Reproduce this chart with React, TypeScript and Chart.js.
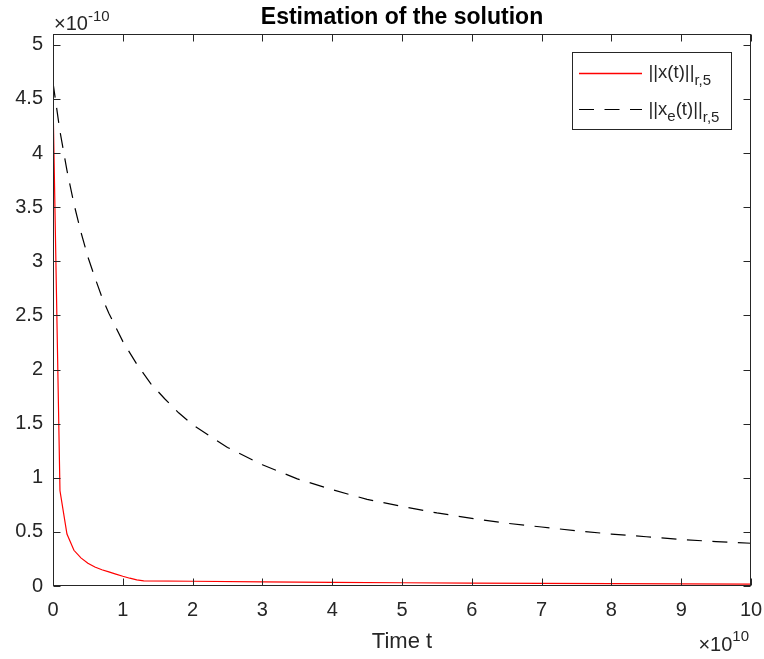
import React, { useEffect, useRef } from "react";
import { Chart, registerables } from "chart.js";

Chart.register(...registerables);

// ---- data (t in units of 1e10, values in units of 1e-10) ----
const xTicks = [0, 1, 2, 3, 4, 5, 6, 7, 8, 9, 10];
const yTicks = [0, 0.5, 1, 1.5, 2, 2.5, 3, 3.5, 4, 4.5, 5];

const tSolution = [0, 0.1, 0.2, 0.3, 0.4, 0.5, 0.6, 0.7, 0.8, 0.9, 1.0, 1.1, 1.2, 1.3, 2, 3, 4, 5, 6, 7, 8, 9, 10];
const xSolution = [4.5, 0.88, 0.48, 0.33, 0.26, 0.21, 0.175, 0.15, 0.13, 0.11, 0.09, 0.072, 0.056, 0.048, 0.044, 0.038, 0.034, 0.03, 0.027, 0.025, 0.022, 0.02, 0.018];

const tEstimate = [0, 0.1, 0.2, 0.3, 0.4, 0.5, 0.6, 0.7, 0.8, 1.0, 1.2, 1.4, 1.6, 1.8, 2.0, 2.5, 3, 3.5, 4, 4.5, 5, 5.5, 6, 6.5, 7, 7.5, 8, 8.5, 9, 9.5, 10];
const xEstimate = [4.65, 4.2, 3.84, 3.53, 3.27, 3.04, 2.85, 2.67, 2.52, 2.26, 2.05, 1.87, 1.73, 1.6, 1.49, 1.28, 1.12, 0.99, 0.89, 0.8, 0.735, 0.675, 0.625, 0.58, 0.545, 0.51, 0.48, 0.455, 0.43, 0.41, 0.395];

const titleText = "Estimation of the solution";
const xLabelText = "Time t";
const yExponent = "-10";
const xExponent = "10";

const FONT = "'Liberation Sans', Arial, Helvetica, sans-serif";
const AXIS_COLOR = "#262626";
const DASH = [15, 10.5];

type Run = { t: string; size: number; dy: number };

function drawRuns(ctx: CanvasRenderingContext2D, x: number, runs: Run[], baseline: number) {
  let cx = x;
  for (const r of runs) {
    ctx.font = `${r.size}px ${FONT}`;
    ctx.fillText(r.t, cx, baseline + r.dy);
    cx += ctx.measureText(r.t).width;
  }
  return cx;
}

function runsWidth(ctx: CanvasRenderingContext2D, runs: Run[]) {
  let w = 0;
  for (const r of runs) {
    ctx.font = `${r.size}px ${FONT}`;
    w += ctx.measureText(r.t).width;
  }
  return w;
}

const matlabDecor = {
  id: "matlabDecor",
  afterDatasetsDraw(chart: any) {
    const { ctx, chartArea: a, scales } = chart;
    const xs = scales.x;
    const ys = scales.y;
    ctx.save();
    ctx.strokeStyle = AXIS_COLOR;
    ctx.lineWidth = 1;
    ctx.setLineDash([]);
    const L = Math.round(a.left) + 0.5;
    const R = Math.round(a.right) - 0.5;
    const T = Math.round(a.top) + 0.5;
    const B = Math.round(a.bottom) - 0.5;
    ctx.strokeRect(L, T, R - L, B - T);
    const tl = 7;
    ctx.beginPath();
    xTicks.forEach((v) => {
      const px = Math.round(xs.getPixelForValue(v)) + 0.5;
      ctx.moveTo(px, B);
      ctx.lineTo(px, B - tl);
      ctx.moveTo(px, T);
      ctx.lineTo(px, T + tl);
    });
    yTicks.forEach((v) => {
      const py = Math.round(ys.getPixelForValue(v)) + 0.5;
      ctx.moveTo(L, py);
      ctx.lineTo(L + tl, py);
      ctx.moveTo(R, py);
      ctx.lineTo(R - tl, py);
    });
    ctx.stroke();

    // title
    const cx = (a.left + a.right) / 2;
    ctx.fillStyle = "#000";
    ctx.textAlign = "center";
    ctx.textBaseline = "alphabetic";
    ctx.font = `bold 23px ${FONT}`;
    ctx.fillText(titleText, cx, 24);

    // x label
    ctx.fillStyle = AXIS_COLOR;
    ctx.font = `22px ${FONT}`;
    ctx.fillText(xLabelText, cx, 648);

    // exponent labels
    ctx.textAlign = "left";
    drawRuns(ctx, a.left + 1, [
      { t: "\u00d710", size: 20, dy: 0 },
      { t: yExponent, size: 15, dy: -9 },
    ], 30);
    const xRuns: Run[] = [
      { t: "\u00d710", size: 20, dy: 0 },
      { t: xExponent, size: 15, dy: -10 },
    ];
    const w = runsWidth(ctx, xRuns);
    drawRuns(ctx, 749 - w, xRuns, 651);

    // legend
    const lx = 572.5, ly = 52.5, lw = 159, lh = 77;
    ctx.fillStyle = "#fff";
    ctx.fillRect(lx, ly, lw, lh);
    ctx.strokeStyle = AXIS_COLOR;
    ctx.lineWidth = 1;
    ctx.strokeRect(lx, ly, lw, lh);

    ctx.lineWidth = 1.3;
    ctx.strokeStyle = "#ff0000";
    ctx.beginPath();
    ctx.moveTo(579, 73.5);
    ctx.lineTo(642, 73.5);
    ctx.stroke();

    ctx.strokeStyle = "#000";
    ctx.lineWidth = 1.2;
    ctx.setLineDash(DASH);
    ctx.beginPath();
    ctx.moveTo(579, 109.5);
    ctx.lineTo(642, 109.5);
    ctx.stroke();
    ctx.setLineDash([]);

    ctx.fillStyle = AXIS_COLOR;
    drawRuns(ctx, 648.5, [
      { t: "||x(t)||", size: 18.5, dy: 0 },
      { t: "r,5", size: 15, dy: 7 },
    ], 78);
    drawRuns(ctx, 648.5, [
      { t: "||x", size: 18.5, dy: 0 },
      { t: "e", size: 15, dy: 6 },
      { t: "(t)||", size: 18.5, dy: 0 },
      { t: "r,5", size: 15, dy: 7 },
    ], 114.5);

    ctx.restore();
  },
};

export default function App() {
  const ref = useRef<HTMLCanvasElement | null>(null);

  useEffect(() => {
    if (!ref.current) return;
    const chart = new Chart(ref.current, {
      type: "line",
      data: {
        datasets: [
          {
            label: "||x(t)||r,5",
            data: tSolution.map((t, i) => ({ x: t, y: xSolution[i] })),
            borderColor: "#ff0000",
            borderWidth: 1.2,
            pointRadius: 0,
            tension: 0,
            fill: false,
          },
          {
            label: "||xe(t)||r,5",
            data: tEstimate.map((t, i) => ({ x: t, y: xEstimate[i] })),
            borderColor: "#000000",
            borderWidth: 1.2,
            borderDash: DASH,
            pointRadius: 0,
            tension: 0,
            fill: false,
          },
        ],
      },
      options: {
        animation: false,
        responsive: false,
        maintainAspectRatio: false,
        devicePixelRatio: 1,
        layout: { padding: { top: 34, right: 13, left: 0, bottom: 0 } },
        plugins: {
          legend: { display: false },
          title: { display: false },
          tooltip: { enabled: false },
        },
        scales: {
          x: {
            type: "linear",
            min: 0,
            max: 10,
            afterBuildTicks: (s: any) => {
              s.ticks = xTicks.map((v) => ({ value: v }));
            },
            afterFit: (s: any) => {
              s.height = 73;
              s.paddingLeft = 0;
              s.paddingRight = 0;
            },
            grid: { display: false, drawTicks: false },
            border: { display: false },
            ticks: {
              color: AXIS_COLOR,
              font: { family: FONT, size: 20 },
              padding: 12,
              maxRotation: 0,
              autoSkip: false,
              callback: (v: any) => String(v),
            },
          },
          y: {
            type: "linear",
            min: 0,
            max: 5.1,
            afterBuildTicks: (s: any) => {
              s.ticks = yTicks.map((v) => ({ value: v }));
            },
            afterFit: (s: any) => {
              s.width = 53;
              s.paddingTop = 0;
              s.paddingBottom = 0;
            },
            grid: { display: false, drawTicks: false },
            border: { display: false },
            ticks: {
              color: AXIS_COLOR,
              font: { family: FONT, size: 20 },
              padding: 10,
              autoSkip: false,
              callback: (v: any) => String(v),
            },
          },
        },
      },
      plugins: [matlabDecor],
    });
    return () => chart.destroy();
  }, []);

  return (
    <div style={{ position: "absolute", left: 0, top: 0, width: 764, height: 659, background: "#fff" }}>
      <canvas ref={ref} width={764} height={659} style={{ display: "block", width: 764, height: 659 }} />
    </div>
  );
}
